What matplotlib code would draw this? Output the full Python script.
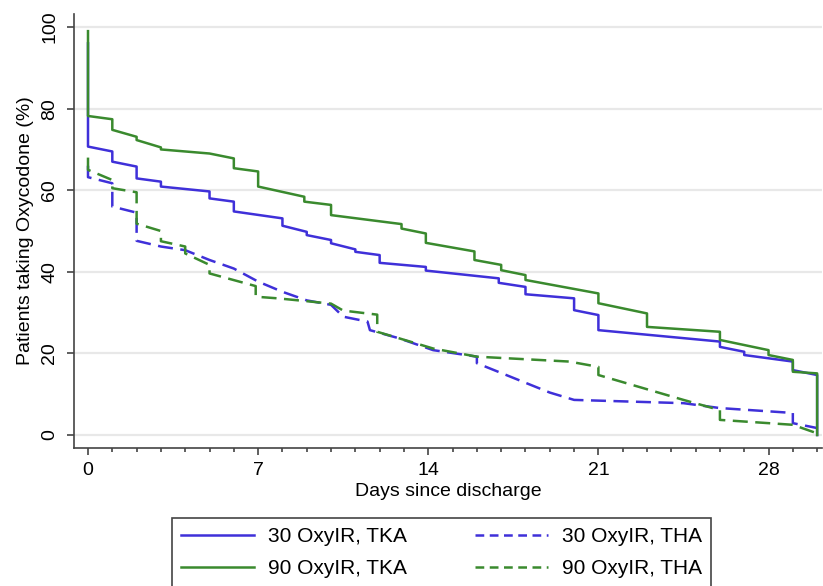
import matplotlib
matplotlib.use("Agg")
import matplotlib.pyplot as plt
from matplotlib.lines import Line2D
from matplotlib.ticker import MultipleLocator

plt.rcParams['font.family'] = ['Liberation Sans', 'DejaVu Sans']

# step curves: repeated day = vertical drop
tka30_days = [0, 0, 1, 1, 2, 2, 3, 3, 5, 5, 6, 6, 8, 8, 9, 9, 10, 10, 11, 11,
              12, 12, 13.9, 13.9, 16.9, 16.9, 18, 18, 20, 20, 21, 21, 26, 26,
              27, 27, 29, 29, 30, 30]
tka30_pct = [96, 70.7, 69.5, 67.0, 65.8, 62.9, 62.1, 60.9, 59.7, 58.0, 57.2,
             54.8, 53.1, 51.3, 49.8, 49.0, 47.8, 47.0, 45.5, 44.9, 44.1, 42.2,
             41.2, 40.3, 38.4, 37.3, 36.3, 34.5, 33.5, 30.6, 29.4, 25.7, 22.9,
             21.6, 20.4, 19.6, 18.0, 15.9, 14.7, 0]

tka90_days = [0, 0, 1, 1, 2, 2, 3, 3, 5, 6, 6, 7, 7, 8.9, 8.9, 10, 10, 12.9,
              12.9, 13.9, 13.9, 15.9, 15.9, 17, 17, 18, 18, 21, 21, 23, 23,
              26, 26, 28, 28, 29, 29, 30, 30]
tka90_pct = [99, 78.2, 77.4, 74.8, 73.1, 72.3, 70.5, 70.0, 69.0, 67.8, 65.4,
             64.6, 60.9, 58.4, 57.2, 56.4, 53.9, 51.7, 50.6, 49.4, 47.1, 45.0,
             42.9, 41.7, 40.4, 39.2, 38.0, 34.7, 32.3, 29.8, 26.5, 25.3, 23.3,
             20.8, 19.6, 18.4, 15.5, 15.1, 0]

tha30_days = [0, 0, 1, 1, 2, 2, 3, 4, 5, 6, 7, 8, 9, 10, 10.5, 11.5, 11.6,
              12.8, 14.2, 16, 16, 19, 20, 24.5, 26, 29, 29, 30]
tha30_pct = [66, 63.2, 61.7, 56.0, 54.5, 47.6, 46.2, 45.3, 42.9, 40.8, 37.6,
             35.1, 33.0, 31.9, 29.0, 27.8, 25.7, 23.7, 20.8, 19.2, 17.6, 10.4,
             8.6, 7.8, 6.6, 5.4, 2.9, 1.7]

tha90_days = [0, 0, 1, 1, 2, 2, 3, 3, 4, 4, 5, 5, 6.9, 6.9, 7.8, 9, 10, 10.5,
              11.9, 11.9, 12.8, 14.2, 16, 19.8, 21, 21, 24.5, 26, 26, 29, 30]
tha90_pct = [68, 65.0, 62.5, 60.5, 59.5, 51.8, 50.0, 47.5, 46.2, 44.5, 41.7,
             39.6, 36.5, 33.9, 33.5, 32.8, 32.2, 30.5, 29.5, 25.3, 23.7, 21.2,
             19.2, 18.0, 16.7, 14.7, 8.6, 6.1, 3.7, 2.5, 0.4]

labels = ["30 OxyIR, TKA", "90 OxyIR, TKA", "30 OxyIR, THA", "90 OxyIR, THA"]

BLUE = '#3f30d9'
GREEN = '#3a8a2e'
LW = 1.8
dash = (6, 3)

fig = plt.figure(figsize=(8.23, 5.86), dpi=100)
ax = fig.add_axes([74 / 823, 138 / 586, 748 / 823, 434 / 586])

ax.set_axisbelow(True)
ax.grid(axis='y', color='#e8e8e8', linewidth=1.6)

ax.plot(tha30_days, tha30_pct, color=BLUE, lw=LW, dashes=dash)
ax.plot(tha90_days, tha90_pct, color=GREEN, lw=LW, dashes=dash)
ax.plot(tka30_days, tka30_pct, color=BLUE, lw=LW)
ax.plot(tka90_days, tka90_pct, color=GREEN, lw=LW)

ax.set_xlim(-0.576, 30.2)
ax.set_ylim(-3.19, 103.2)

ax.set_xticks([0, 7, 14, 21, 28])
ax.xaxis.set_minor_locator(MultipleLocator(1))
ax.set_yticks([0, 20, 40, 60, 80, 100])
ax.tick_params(axis='both', which='major', labelsize=14, length=5, width=1.2,
               color='#444444')
ax.tick_params(axis='x', which='major', pad=5)
ax.tick_params(axis='x', which='minor', length=3, width=1.2, color='#444444')
ax.tick_params(axis='y', which='major', pad=6.5)
for lab in ax.get_yticklabels():
    lab.set_rotation(90)
    lab.set_va('center')

for side in ['top', 'right']:
    ax.spines[side].set_visible(False)
for side in ['left', 'bottom']:
    ax.spines[side].set_color('#444444')
    ax.spines[side].set_linewidth(1.2)

ax.set_xlabel("Days since discharge", fontsize=14, labelpad=3)
ax.set_ylabel("Patients taking Oxycodone (%)", fontsize=14)
ax.yaxis.set_label_coords(-0.053, 0.5)

# legend keys: Stata draws a shorter dash in the key
handles = [Line2D([], [], color=BLUE, lw=LW),
           Line2D([], [], color=GREEN, lw=LW),
           Line2D([], [], color=BLUE, lw=LW, dashes=(3.5, 2.2)),
           Line2D([], [], color=GREEN, lw=LW, dashes=(3.5, 2.2))]
leg = fig.legend(handles, labels, ncol=2, loc='upper left',
                 bbox_to_anchor=(172 / 823, 1 - 518 / 586),
                 bbox_transform=fig.transFigure, fontsize=15,
                 frameon=True, fancybox=False, framealpha=1,
                 borderaxespad=0, handlelength=3.5, handletextpad=0.65,
                 columnspacing=3.3, borderpad=0.45, labelspacing=0.6)
leg.get_frame().set_edgecolor('#444444')
leg.get_frame().set_linewidth(1.2)

fig.savefig('out.png', dpi=100)
